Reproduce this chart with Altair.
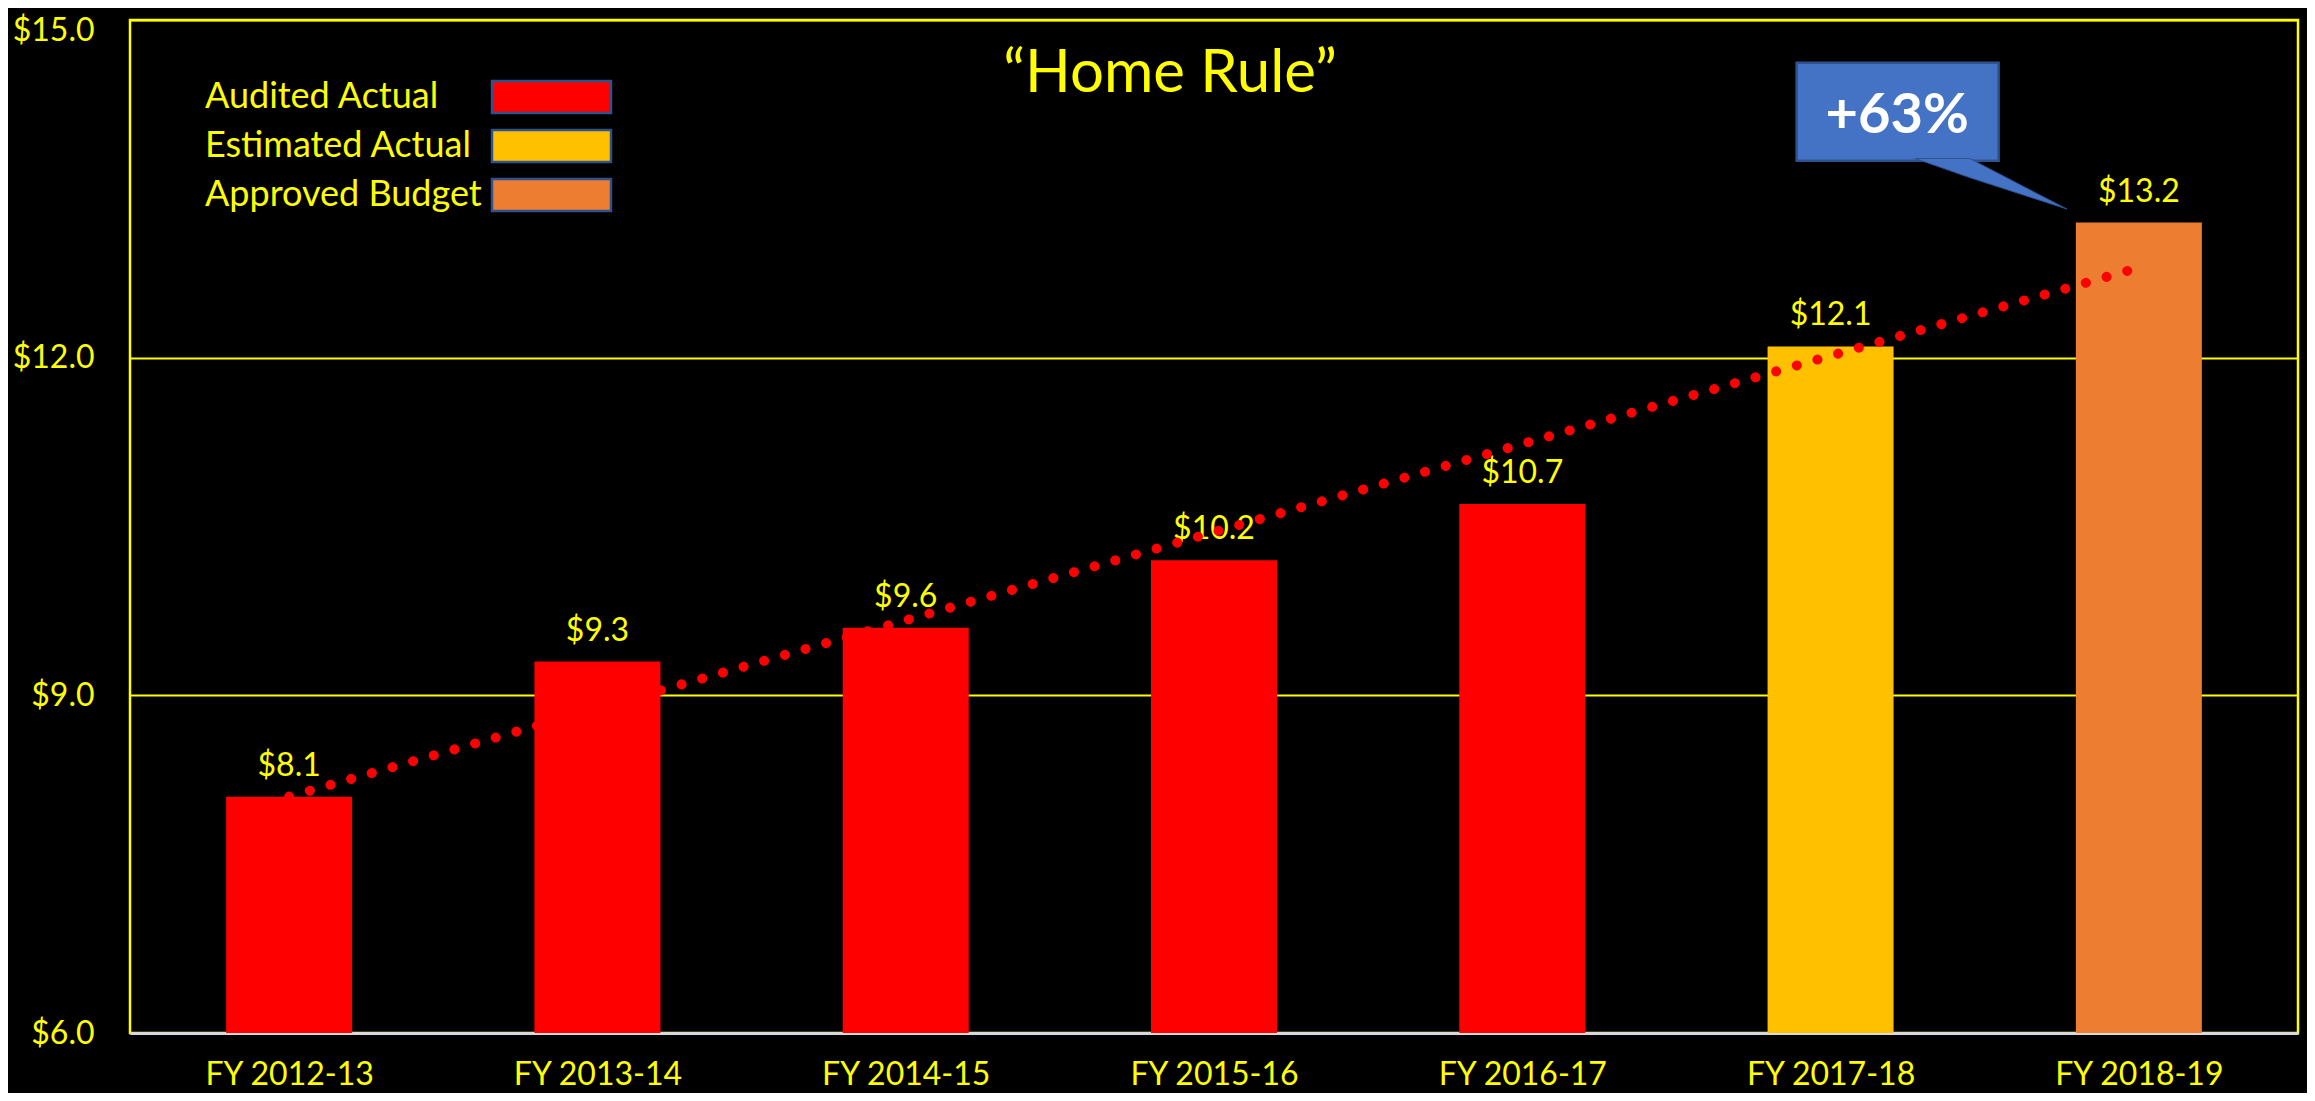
import altair as alt
import pandas as pd

# ---- data ----
categories = ["FY 2012-13", "FY 2013-14", "FY 2014-15", "FY 2015-16",
              "FY 2016-17", "FY 2017-18", "FY 2018-19"]
values = [8.1, 9.3, 9.6, 10.2, 10.7, 12.1, 13.2]
status = ["Audited Actual"] * 5 + ["Estimated Actual", "Approved Budget"]

legend_labels = ["Audited Actual", "Estimated Actual", "Approved Budget"]
legend_colors = ["#FF0000", "#FFC000", "#ED7D31"]

# dotted trend line (read end points)
trend_x = [0, 6]
trend_y = [8.1, 12.8]

y_ticks = [6, 9, 12, 15]
title_text = "\u201cHome Rule\u201d"
callout_text = "+63%"
# callout box (in chart data units)
callout_x = [4.89, 5.545]
callout_y = [13.75, 14.62]
callout_label_pos = [5.216, 14.0]
tail_x = [5.274, 5.451, 5.767]
tail_top = [13.77, 13.77, 13.32]
tail_bottom = [13.77, 13.60, 13.32]

YELLOW = "#FFFF00"
FONT = "Lato"

color_map = dict(zip(legend_labels, legend_colors))
df = pd.DataFrame({
    "idx": list(range(len(categories))),
    "category": categories,
    "value": values,
    "status": status,
    "color": [color_map[s] for s in status],
})

W, H = 2168, 1013

label_expr = "[" + ",".join(f"'{c}'" for c in categories) + "][datum.value]"

x_scale = alt.Scale(domain=[-0.5, len(categories) - 0.5], nice=False, zero=False)
y_scale = alt.Scale(domain=[6, 15], nice=False, zero=False)

x_enc = alt.X(
    "idx:Q", scale=x_scale, title=None,
    axis=alt.Axis(values=list(range(len(categories))), labelExpr=label_expr,
                  grid=False, ticks=False, domain=True, domainColor="#D9D9D9",
                  domainWidth=3, labelColor=YELLOW, labelFont=FONT,
                  labelFontSize=32, labelPadding=26, labelFlush=False,
                  labelOverlap=False),
)
y_enc = alt.Y(
    "value:Q", scale=y_scale, title=None,
    axis=alt.Axis(values=y_ticks, format="$.1f", grid=True, gridColor=YELLOW,
                  gridWidth=2, domain=False, ticks=False, labelColor=YELLOW,
                  labelFont=FONT, labelFontSize=32, labelPadding=36,
                  labelFlush=False,
                  labelOffset={"condition": {"test": "datum.value == 15",
                                             "value": 10}, "value": 0}),
)

base = alt.Chart(df)

bars = base.mark_bar(size=126).encode(
    x=x_enc, y=y_enc, y2=alt.datum(6),
    color=alt.Color("color:N", scale=None),
)

labels = base.mark_text(baseline="alphabetic", dy=-21, font=FONT,
                        fontSize=32, color=YELLOW).encode(
    x="idx:Q", y="value:Q",
    text=alt.Text("value:Q", format="$.1f"),
)

trend_df = pd.DataFrame({"idx": trend_x, "value": trend_y})
trend = alt.Chart(trend_df).mark_line(
    color="#FF0000", strokeWidth=10, strokeCap="round",
    strokeDash=[0.1, 21.38],
).encode(x="idx:Q", y="value:Q")

# callout
box_df = pd.DataFrame({"x": [callout_x[0]], "x2": [callout_x[1]],
                       "y": [callout_y[0]], "y2": [callout_y[1]]})
box = alt.Chart(box_df).mark_rect(fill="#4472C4", stroke="#2F528F",
                                  strokeWidth=2.5).encode(
    x="x:Q", x2="x2:Q", y="y:Q", y2="y2:Q")
tail_df = pd.DataFrame({"x": tail_x, "y": tail_top, "y2": tail_bottom})
tail = alt.Chart(tail_df).mark_area(fill="#4472C4", stroke="#2F528F",
                                    strokeWidth=1).encode(
    x="x:Q", y="y:Q", y2="y2:Q")
callout_lbl = alt.Chart(pd.DataFrame({"x": [callout_label_pos[0]],
                                      "y": [callout_label_pos[1]],
                                      "t": [callout_text]})).mark_text(
    baseline="alphabetic", align="center", font=FONT, fontSize=56,
    fontWeight="bold", color="#FFFFFF").encode(x="x:Q", y="y:Q", text="t:N")

# title inside plot
title = alt.Chart(pd.DataFrame({"t": [title_text]})).mark_text(
    baseline="alphabetic", align="center", font=FONT, fontSize=60,
    color=YELLOW).encode(x=alt.value(1040), y=alt.value(72), text="t:N")

# manual legend (labels left, swatches right)
legend_layers = []
for i, (lab, col) in enumerate(zip(legend_labels, legend_colors)):
    row_y = 77 + 49 * i
    ldf = pd.DataFrame({"label": [lab]})
    legend_layers.append(
        alt.Chart(ldf).mark_text(align="left", baseline="middle", font=FONT,
                                 fontSize=36, color=YELLOW).encode(
            x=alt.value(75), y=alt.value(row_y), text="label:N"))
    legend_layers.append(
        alt.Chart(ldf).mark_rect(fill=col, stroke="#2F528F",
                                 strokeWidth=2.5).encode(
            x=alt.value(362), x2=alt.value(481),
            y=alt.value(row_y - 16), y2=alt.value(row_y + 16)))

chart = alt.layer(
    bars, labels, trend, box, tail, callout_lbl, title, *legend_layers
).properties(
    width=W, height=H,
    autosize=alt.AutoSizeParams(type="none"),
    padding={"left": 122, "top": 12, "right": 9, "bottom": 60},
    background="#000000",
).configure_view(stroke=YELLOW, strokeWidth=2.5)

chart.save("out.html", embed_options={"renderer": "svg", "actions": False})
